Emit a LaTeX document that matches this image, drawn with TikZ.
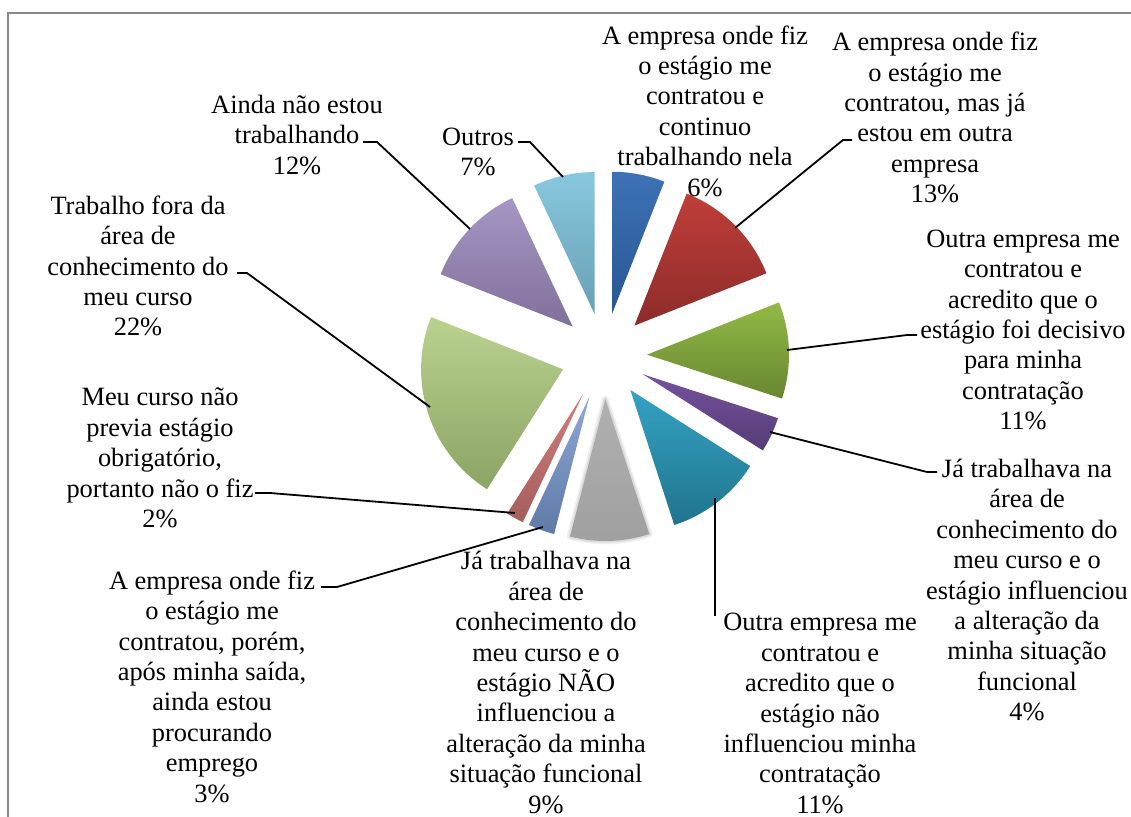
\documentclass[tikz,border=0pt]{standalone}
\usepackage{fontspec}
\setmainfont{Liberation Serif}
\usepackage{tikz}
\definecolor{blueT}{RGB}{62,114,182}
\definecolor{blueB}{RGB}{40,86,146}
\definecolor{redT}{RGB}{192,62,57}
\definecolor{redB}{RGB}{140,44,42}
\definecolor{greenT}{RGB}{146,186,70}
\definecolor{greenB}{RGB}{104,134,50}
\definecolor{purpleT}{RGB}{118,82,158}
\definecolor{purpleB}{RGB}{84,60,118}
\definecolor{tealT}{RGB}{52,162,196}
\definecolor{tealB}{RGB}{32,116,140}
\definecolor{grayT}{RGB}{176,176,176}
\definecolor{grayB}{RGB}{160,160,160}
\definecolor{steelT}{RGB}{142,168,216}
\definecolor{steelB}{RGB}{96,122,166}
\definecolor{pinkT}{RGB}{210,126,124}
\definecolor{pinkB}{RGB}{164,94,92}
\definecolor{limeT}{RGB}{186,210,142}
\definecolor{limeB}{RGB}{140,164,100}
\definecolor{lavT}{RGB}{166,150,196}
\definecolor{lavB}{RGB}{128,112,154}
\definecolor{aquaT}{RGB}{136,200,222}
\definecolor{aquaB}{RGB}{104,160,180}
\definecolor{framegray}{RGB}{136,136,136}

\begin{document}
\begin{tikzpicture}[x=0.75pt,y=-0.75pt,
  lbl/.style={align=center,inner sep=0pt,font=\fontsize{19.8}{22.8}\selectfont},
  leader/.style={line width=1.35pt}]
\useasboundingbox (0,0) rectangle (1131,817);
\draw[framegray,line width=1.5pt] (7.8,817) -- (7.8,12.6) -- (1131,12.6);
\coordinate (O) at (604,356);
\begin{scope}[shift={(O)}]
\shade[top color=blueT,bottom color=blueB] (79.2:32.25pt) -- ++(90:106.5pt) arc[start angle=90,end angle=68.4,radius=106.5pt] -- cycle;
\shade[top color=redT,bottom color=redB] (45:32.25pt) -- ++(68.4:106.5pt) arc[start angle=68.4,end angle=21.6,radius=106.5pt] -- cycle;
\shade[top color=greenT,bottom color=greenB] (1.8:32.25pt) -- ++(21.6:106.5pt) arc[start angle=21.6,end angle=-18,radius=106.5pt] -- cycle;
\shade[top color=purpleT,bottom color=purpleB] (-25.2:32.25pt) -- ++(-18:106.5pt) arc[start angle=-18,end angle=-32.4,radius=106.5pt] -- cycle;
\shade[top color=tealT,bottom color=tealB] (-52.2:32.25pt) -- ++(-32.4:106.5pt) arc[start angle=-32.4,end angle=-72,radius=106.5pt] -- cycle;
% soft edge of the grey slice
\draw[gray!12,line width=5pt,line join=round] (-88.2:32.25pt) -- ++(-72:106.5pt) arc[start angle=-72,end angle=-104.4,radius=106.5pt] -- cycle;
\draw[gray!28,line width=2.5pt,line join=round] (-88.2:32.25pt) -- ++(-72:106.5pt) arc[start angle=-72,end angle=-104.4,radius=106.5pt] -- cycle;
\shade[top color=grayT,bottom color=grayB] (-88.2:32.25pt) -- ++(-72:106.5pt) arc[start angle=-72,end angle=-104.4,radius=106.5pt] -- cycle;
\shade[top color=steelT,bottom color=steelB] (-109.8:32.25pt) -- ++(-104.4:106.5pt) arc[start angle=-104.4,end angle=-115.2,radius=106.5pt] -- cycle;
\shade[top color=pinkT,bottom color=pinkB] (-118.8:32.25pt) -- ++(-115.2:106.5pt) arc[start angle=-115.2,end angle=-122.4,radius=106.5pt] -- cycle;
\shade[top color=limeT,bottom color=limeB] (-162:32.25pt) -- ++(-122.4:106.5pt) arc[start angle=-122.4,end angle=-201.6,radius=106.5pt] -- cycle;
\shade[top color=lavT,bottom color=lavB] (-223.2:32.25pt) -- ++(-201.6:106.5pt) arc[start angle=-201.6,end angle=-244.8,radius=106.5pt] -- cycle;
\shade[top color=aquaT,bottom color=aquaB] (-257.4:32.25pt) -- ++(-244.8:106.5pt) arc[start angle=-244.8,end angle=-270,radius=106.5pt] -- cycle;
\end{scope}
% labels
\node[lbl] (contnela) at (705,111) {A empresa onde fiz\\o estágio me\\contratou e\\continuo\\trabalhando nela\\6\%};
\node[lbl] (outraemp) at (935,117.5) {A empresa onde fiz\\o estágio me\\contratou, mas já\\estou em outra\\empresa\\13\%};
\node[lbl] (decisivo) at (1023,330) {Outra empresa me\\contratou e\\acredito que o\\estágio foi decisivo\\para minha\\contratação\\11\%};
\node[lbl] (influ) at (1027,590) {Já trabalhava na\\área de\\conhecimento do\\meu curso e o\\estágio influenciou\\a alteração da\\minha situação\\funcional\\4\%};
\node[lbl] (naoinflu) at (820,713.5) {Outra empresa me\\contratou e\\acredito que o\\estágio não\\influenciou minha\\contratação\\11\%};
\node[lbl] (naoNAO) at (546,682.5) {Já trabalhava na\\área de\\conhecimento do\\meu curso e o\\estágio NÃO\\influenciou a\\alteração da minha\\situação funcional\\9\%};
\node[lbl] (procurando) at (212,686.5) {A empresa onde fiz\\o estágio me\\contratou, porém,\\após minha saída,\\ainda estou\\procurando\\emprego\\3\%};
\node[lbl] (naoprevia) at (160,458) {Meu curso não\\previa estágio\\obrigatório,\\portanto não o fiz\\2\%};
\node[lbl] (fora) at (138,266) {Trabalho fora da\\área de\\conhecimento do\\meu curso\\22\%};
\node[lbl] (ainda) at (297,135) {Ainda não estou\\trabalhando\\12\%};
\node[lbl] (outros) at (478,152) {Outros\\7\%};
% leader lines
\coordinate (s13) at (735,228);   \coordinate (k13) at (843,140);  \coordinate (e13) at (852,140);
\coordinate (s11a) at (787,350);  \coordinate (k11a) at (907,335); \coordinate (e11a) at (917,335);
\coordinate (s4) at (770,432);    \coordinate (k4) at (927,472);   \coordinate (e4) at (937,472);
\coordinate (s11b) at (715,498);  \coordinate (e11b) at (715,616);
\coordinate (s3) at (543,527);    \coordinate (k3) at (337,587);   \coordinate (e3) at (321,587);
\coordinate (s2) at (515,513);    \coordinate (k2) at (270,493);   \coordinate (e2) at (255,493);
\coordinate (s22) at (430,407);   \coordinate (k22) at (247,273);  \coordinate (e22) at (237,273);
\coordinate (s12) at (470,229);   \coordinate (k12) at (377,142);  \coordinate (e12) at (363,142);
\coordinate (s7) at (563,177);    \coordinate (k7) at (530,142);   \coordinate (e7) at (518,142);
\draw[leader] (s13) -- (k13) -- (e13);
\draw[leader] (s11a) -- (k11a) -- (e11a);
\draw[leader] (s4) -- (k4) -- (e4);
\draw[leader] (s11b) -- (e11b);
\draw[leader] (s3) -- (k3) -- (e3);
\draw[leader] (s2) -- (k2) -- (e2);
\draw[leader] (s22) -- (k22) -- (e22);
\draw[leader] (s12) -- (k12) -- (e12);
\draw[leader] (s7) -- (k7) -- (e7);
\end{tikzpicture}
\end{document}
